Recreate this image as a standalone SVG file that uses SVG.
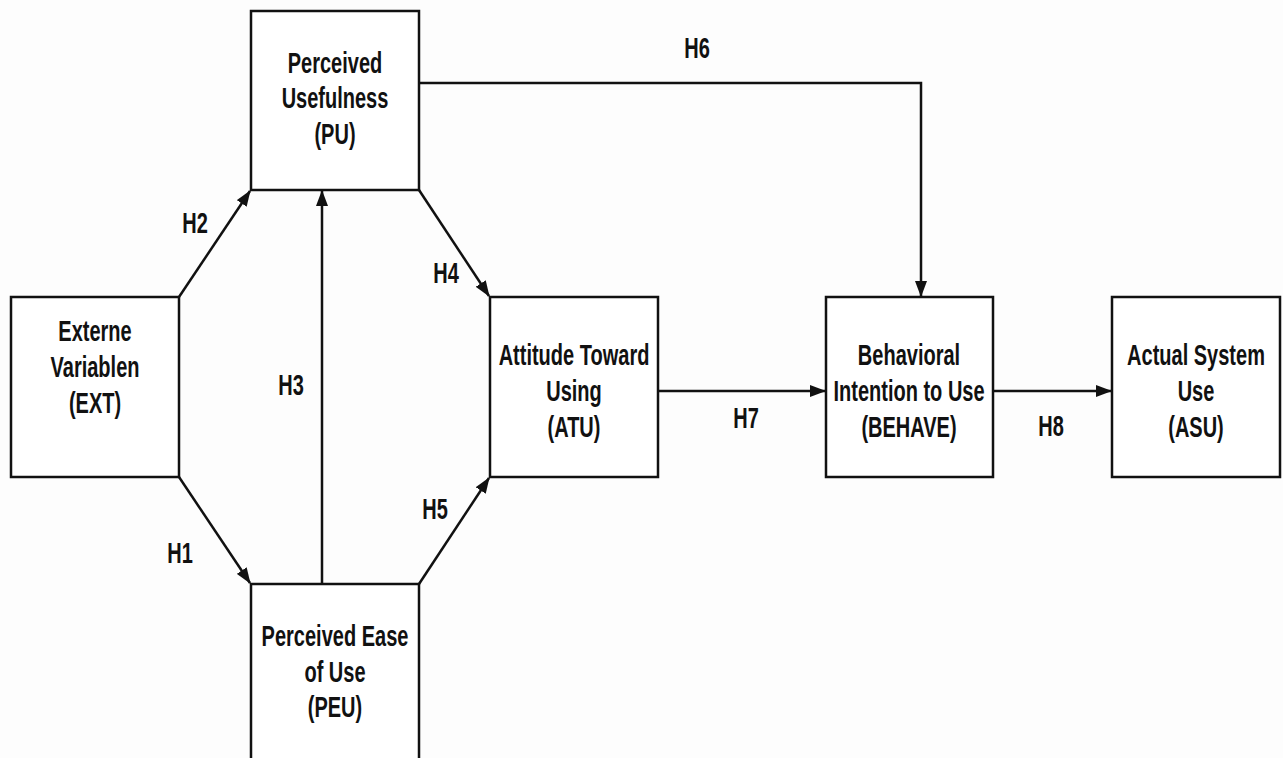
<svg xmlns="http://www.w3.org/2000/svg" width="1283" height="758" viewBox="0 0 1283 758">
<defs>
<style>
.box{fill:#fff;stroke:#111;stroke-width:2.5}
.t{font-family:"Liberation Sans",Arial,sans-serif;font-weight:bold;font-size:29px;fill:#111;text-anchor:middle}
.c{fill:none;stroke:#111;stroke-width:2.5}
</style>
<marker id="ah" viewBox="0 0 16 12" refX="15" refY="6" markerWidth="16" markerHeight="12" markerUnits="userSpaceOnUse" orient="auto">
<path d="M0,0 L16,6 L0,12 z" fill="#111"/>
</marker>
</defs>
<rect width="1283" height="758" fill="#fdfdfd"/>
<g id="connectors">
<line class="c" x1="179" y1="297" x2="250" y2="191" marker-end="url(#ah)"/>
<line class="c" x1="179" y1="477" x2="250" y2="583" marker-end="url(#ah)"/>
<line class="c" x1="322" y1="584" x2="322" y2="191" marker-end="url(#ah)"/>
<line class="c" x1="419" y1="190" x2="489" y2="296" marker-end="url(#ah)"/>
<line class="c" x1="419" y1="584" x2="489" y2="478" marker-end="url(#ah)"/>
<polyline class="c" points="419,83 921,83 921,296" marker-end="url(#ah)"/>
<line class="c" x1="658" y1="391" x2="825" y2="391" marker-end="url(#ah)"/>
<line class="c" x1="993" y1="391" x2="1111" y2="391" marker-end="url(#ah)"/>
<text class="t" transform="translate(195,233) scale(0.69,1)">H2</text>
<text class="t" transform="translate(180,563) scale(0.69,1)">H1</text>
<text class="t" transform="translate(291,395) scale(0.69,1)">H3</text>
<text class="t" transform="translate(446,283) scale(0.69,1)">H4</text>
<text class="t" transform="translate(435,519) scale(0.69,1)">H5</text>
<text class="t" transform="translate(697,58) scale(0.69,1)">H6</text>
<text class="t" transform="translate(746,428) scale(0.69,1)">H7</text>
<text class="t" transform="translate(1051,436) scale(0.69,1)">H8</text>
</g>
<g id="PU">
<rect class="box" x="251" y="11" width="168" height="179"/>
<g transform="translate(335,0) scale(0.69,1)">
<text class="t" x="0" y="73">Perceived</text>
<text class="t" x="0" y="108">Usefulness</text>
<text class="t" x="0" y="144">(PU)</text>
</g>
</g>
<g id="EXT">
<rect class="box" x="11" y="297" width="168" height="180"/>
<g transform="translate(95,0) scale(0.69,1)">
<text class="t" x="0" y="341">Externe</text>
<text class="t" x="0" y="377">Variablen</text>
<text class="t" x="0" y="413">(EXT)</text>
</g>
</g>
<g id="PEU">
<rect class="box" x="251" y="584" width="168" height="190"/>
<g transform="translate(335,0) scale(0.69,1)">
<text class="t" x="0" y="646">Perceived Ease</text>
<text class="t" x="0" y="682">of Use</text>
<text class="t" x="0" y="717">(PEU)</text>
</g>
</g>
<g id="ATU">
<rect class="box" x="490" y="297" width="168" height="180"/>
<g transform="translate(574,0) scale(0.69,1)">
<text class="t" x="0" y="365">Attitude Toward</text>
<text class="t" x="0" y="401">Using</text>
<text class="t" x="0" y="437">(ATU)</text>
</g>
</g>
<g id="BEHAVE">
<rect class="box" x="826" y="297" width="167" height="180"/>
<g transform="translate(909,0) scale(0.69,1)">
<text class="t" x="0" y="365">Behavioral</text>
<text class="t" x="0" y="401">Intention to Use</text>
<text class="t" x="0" y="437">(BEHAVE)</text>
</g>
</g>
<g id="ASU">
<rect class="box" x="1112" y="297" width="168" height="180"/>
<g transform="translate(1196,0) scale(0.69,1)">
<text class="t" x="0" y="365">Actual System</text>
<text class="t" x="0" y="401">Use</text>
<text class="t" x="0" y="437">(ASU)</text>
</g>
</g>
</svg>
